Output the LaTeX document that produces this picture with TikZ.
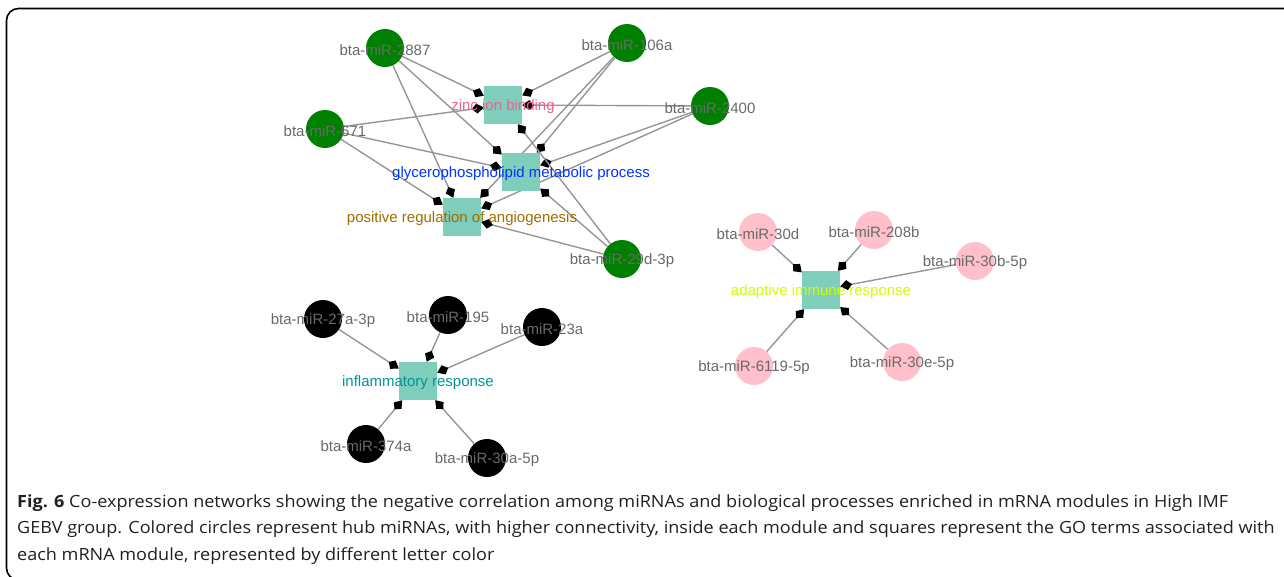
\documentclass[tikz,border=0pt]{standalone}
\usepackage{fontspec}
\setmainfont{Liberation Sans}
\newfontfamily\capfont[FakeStretch=1.075]{Open Sans}
\usetikzlibrary{arrows.meta,backgrounds}
\definecolor{nodegreen}{RGB}{0,128,0}
\definecolor{sqfill}{RGB}{127,205,187}
\definecolor{pinkc}{RGB}{255,192,203}
\definecolor{edgegray}{RGB}{150,150,150}
\definecolor{lblgray}{RGB}{105,105,105}
\definecolor{zinccol}{RGB}{240,96,150}
\definecolor{glycol}{RGB}{0,51,255}
\definecolor{poscol}{RGB}{160,110,0}
\definecolor{adapcol}{RGB}{204,255,0}
\definecolor{inflcol}{RGB}{0,150,150}
\definecolor{capcol}{RGB}{35,31,32}
\begin{document}
\begin{tikzpicture}[x=1pt,y=-1pt,
  mir/.style={circle,minimum size=38pt,inner sep=0pt},
  gomir/.style={mir,fill=nodegreen},
  pkmir/.style={mir,fill=pinkc},
  bkmir/.style={mir,fill=black},
  goterm/.style={rectangle,fill=sqfill,minimum size=38pt,inner sep=0pt},
  lbl/.style={font=\fontsize{15}{15}\selectfont,text=lblgray,inner sep=0pt,yshift=-2pt},
  golbl/.style={font=\fontsize{15}{15}\selectfont,inner sep=0pt,yshift=-2pt},
  conn/.style={draw=edgegray,line width=1.4pt,-{Kite[black,length=12pt,width=10pt,inset=5pt]}},
  captxt/.style={font=\capfont\fontsize{16.8}{16.8}\selectfont,text=capcol,anchor=base west,inner sep=0pt},
]
\useasboundingbox (0,0) rectangle (1284,576);
\draw[line width=1.6pt,rounded corners=12pt] (1290,8.5) -- (6.5,8.5) -- (6.5,580) -- (40,580);

% top cluster
\node[gomir] (m2887) at (385,48) {};
\node[gomir] (m106a) at (627,43) {};
\node[gomir] (m2400) at (710,106) {};
\node[gomir] (m671) at (325,129) {};
\node[gomir] (m29d) at (622,259) {};
\node[goterm] (zinc) at (503,105) {};
\node[goterm] (glyc) at (521,172) {};
\node[goterm] (posr) at (462,217) {};

% right cluster
\node[pkmir] (m30d) at (758,232) {};
\node[pkmir] (m208b) at (874,230) {};
\node[pkmir] (m30b) at (975,261) {};
\node[pkmir] (m6119) at (754,366) {};
\node[pkmir] (m30e) at (902,362) {};
\node[goterm] (adap) at (821,290) {};

% bottom-left cluster
\node[bkmir] (m27a) at (323,319) {};
\node[bkmir] (m195) at (448,315) {};
\node[bkmir] (m23a) at (542,327) {};
\node[bkmir] (m374a) at (366,444) {};
\node[bkmir] (m30a) at (487,458) {};
\node[goterm] (infl) at (418,381) {};

\begin{pgfonlayer}{background}
\foreach \s in {m2887,m106a,m2400,m671,m29d}{
  \foreach \t in {zinc,glyc,posr}{
    \draw[conn] (\s) -- (\t);
  }
}
\foreach \s in {m30d,m208b,m30b,m6119,m30e}{\draw[conn] (\s) -- (adap);}
\foreach \s in {m27a,m195,m23a,m374a,m30a}{\draw[conn] (\s) -- (infl);}
\end{pgfonlayer}

% labels
\node[lbl] at (m2887) {bta-miR-2887};
\node[lbl] at (m106a) {bta-miR-106a};
\node[lbl] at (m2400) {bta-miR-2400};
\node[lbl] at (m671) {bta-miR-671};
\node[lbl] at (m29d) {bta-miR-29d-3p};
\node[golbl,text=zinccol] at (zinc) {zinc ion binding};
\node[golbl,text=glycol] at (glyc) {glycerophospholipid metabolic process};
\node[golbl,text=poscol] at (posr) {positive regulation of angiogenesis};
\node[lbl] at (m30d) {bta-miR-30d};
\node[lbl] at (m208b) {bta-miR-208b};
\node[lbl] at (m30b) {bta-miR-30b-5p};
\node[lbl] at (m6119) {bta-miR-6119-5p};
\node[lbl] at (m30e) {bta-miR-30e-5p};
\node[golbl,text=adapcol] at (adap) {adaptive immune response};
\node[lbl] at (m27a) {bta-miR-27a-3p};
\node[lbl] at (m195) {bta-miR-195};
\node[lbl] at (m23a) {bta-miR-23a};
\node[lbl] at (m374a) {bta-miR-374a};
\node[lbl] at (m30a) {bta-miR-30a-5p};
\node[golbl,text=inflcol] at (infl) {inflammatory response};

% caption
\node[captxt] (cap1) at (17,507) {\textbf{Fig. 6} Co-expression networks showing the negative correlation among miRNAs and biological processes enriched in mRNA modules in High IMF};
\node[captxt] (cap2) at (17,533) {GEBV group. Colored circles represent hub miRNAs, with higher connectivity, inside each module and squares represent the GO terms associated with};
\node[captxt] (cap3) at (17,560) {each mRNA module, represented by different letter color};
\end{tikzpicture}
\end{document}
